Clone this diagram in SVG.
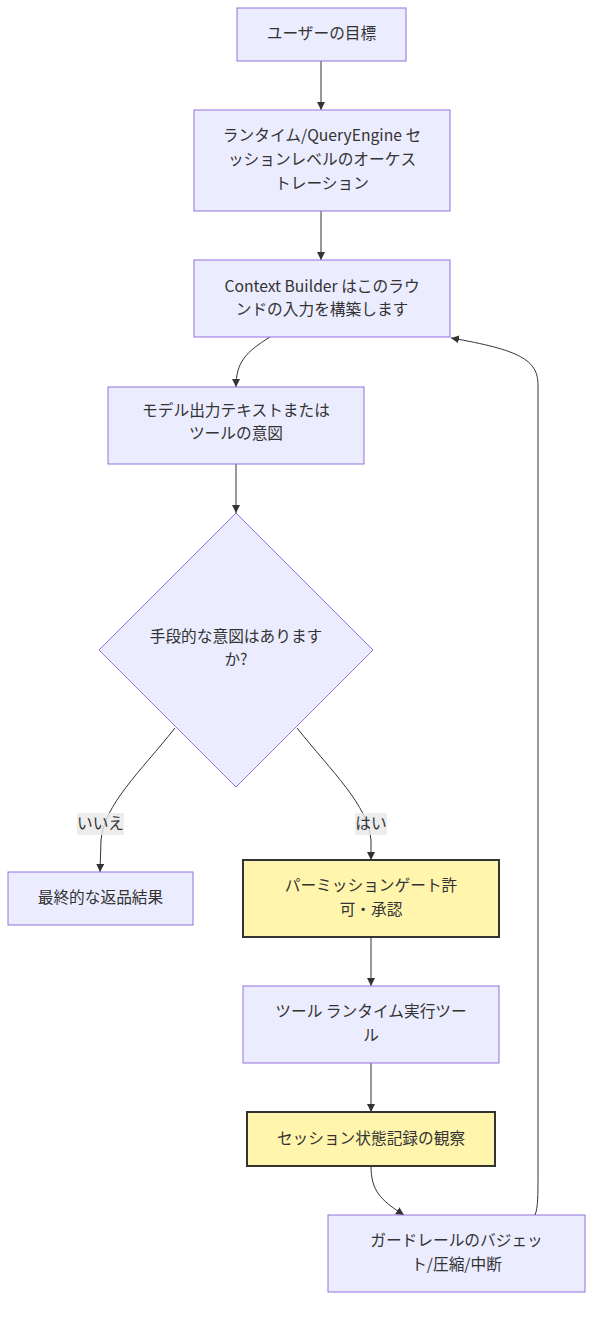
<svg xmlns="http://www.w3.org/2000/svg" width="601" height="1318" viewBox="0 0 601 1318">
<style>
.n{fill:#ECECFF;stroke:#9370DB;stroke-width:1}
.y{fill:#FFF5AD;stroke:#333;stroke-width:2}
text{font-family:"Noto Sans CJK JP","Noto Sans",sans-serif;font-size:15.7px;fill:#333;text-anchor:middle;dominant-baseline:central}
.e{fill:none;stroke:#333;stroke-width:1}
.lb{fill:#e8e8e8;opacity:0.8}
</style>
<defs>
<marker id="ah" viewBox="0 0 10 10" refX="10" refY="5" markerWidth="8" markerHeight="8" orient="auto" markerUnits="userSpaceOnUse">
<path d="M0,0 L10,5 L0,10 z" fill="#333"/>
</marker>
</defs>
<rect width="601" height="1318" fill="#fff"/>
<g id="edges">
<path class="e" d="M321,61 L321,110" marker-end="url(#ah)"/>
<path class="e" d="M321,211 L321,260" marker-end="url(#ah)"/>
<path class="e" d="M270,337 C246,352 236,362 236,387" marker-end="url(#ah)"/>
<path class="e" d="M236,464 L236,513" marker-end="url(#ah)"/>
<path class="e" d="M175,728 C140,772 104,805 101,840 L100,872" marker-end="url(#ah)"/>
<path class="e" d="M297,728 C332,772 368,805 371,840 L371,860" marker-end="url(#ah)"/>
<path class="e" d="M371,937 L371,986" marker-end="url(#ah)"/>
<path class="e" d="M371,1063 L371,1112" marker-end="url(#ah)"/>
<path class="e" d="M371,1166 C371,1190 380,1200 404,1215" marker-end="url(#ah)"/>
<path class="e" d="M535,1215 C538,1208 538,1195 538,1175 L538,385 C538,360 520,350 451,338" marker-end="url(#ah)"/>
<rect class="lb" x="77" y="813" width="47" height="22"/>
<text x="100.5" y="822">いいえ</text>
<rect class="lb" x="355" y="813" width="32" height="22"/>
<text x="371" y="822">はい</text>
</g>
<g id="n1"><rect class="n" x="237" y="8" width="169" height="53"/><text x="321.5" y="32.5">ユーザーの目標</text></g>
<g id="n2"><rect class="n" x="194" y="110" width="256" height="101"/><text x="322" y="134">ランタイム/QueryEngine セ</text><text x="322" y="158">ッションレベルのオーケス</text><text x="322" y="182">トレーション</text></g>
<g id="n3"><rect class="n" x="194" y="260" width="256" height="77"/><text x="322" y="285">Context Builder はこのラウ</text><text x="322" y="308">ンドの入力を構築します</text></g>
<g id="n4"><rect class="n" x="108" y="387" width="256" height="77"/><text x="236" y="409">モデル出力テキストまたは</text><text x="236" y="432">ツールの意図</text></g>
<g id="n5"><polygon class="n" points="236,513 373,650 236,787 99,650"/><text x="236" y="635">手段的な意図はあります</text><text x="236" y="658">か?</text></g>
<g id="n6"><rect class="n" x="8" y="872" width="185" height="53"/><text x="100.5" y="896">最終的な返品結果</text></g>
<g id="n7"><rect class="y" x="243" y="860" width="256" height="77"/><text x="371" y="884">パーミッションゲート許</text><text x="371" y="908">可・承認</text></g>
<g id="n8"><rect class="n" x="243" y="986" width="256" height="77"/><text x="371" y="1010">ツール ランタイム実行ツー</text><text x="371" y="1034">ル</text></g>
<g id="n9"><rect class="y" x="247" y="1112" width="248" height="54"/><text x="371" y="1137">セッション状態記録の観察</text></g>
<g id="n10"><rect class="n" x="328" y="1215" width="257" height="77"/><text x="456.5" y="1239">ガードレールのバジェッ</text><text x="456.5" y="1263">ト/圧縮/中断</text></g>
</svg>
